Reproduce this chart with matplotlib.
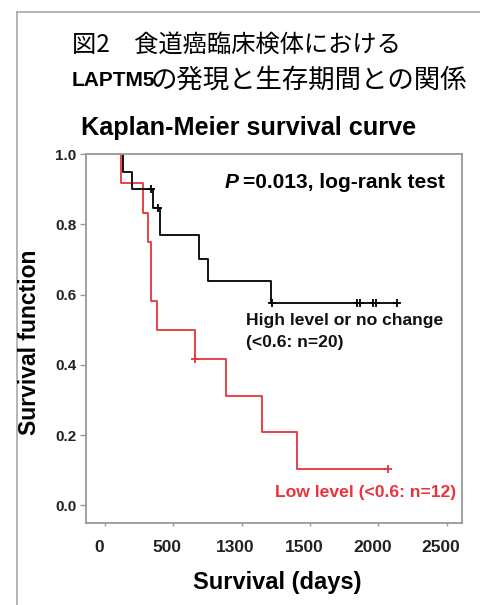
import matplotlib
matplotlib.use("Agg")
import matplotlib.pyplot as plt
from matplotlib.lines import Line2D
from matplotlib.transforms import ScaledTranslation

# Kaplan-Meier curves (days, survival)
high_times = [130, 196, 351, 404, 691, 755, 1218, 2135]
high_surv = [0.95, 0.90, 0.847, 0.77, 0.70, 0.64, 0.577, 0.577]
high_cens_t = [338, 388, 1225, 1847, 1866, 1964, 1984, 2135]

low_times = [115, 280, 312, 335, 380, 659, 884, 1147, 1403, 2074]
low_surv = [0.917, 0.833, 0.75, 0.583, 0.5, 0.417, 0.3125, 0.208, 0.104, 0.104]
low_cens_t = [659, 2074]

xticks = [0, 500, 1000, 1500, 2000, 2500]
xtick_labels = ["0", "500", "1300", "1500", "2000", "2500"]
yticks = [0.0, 0.2, 0.4, 0.6, 0.8, 1.0]

W, H = 481, 605
fx = lambda x: x / W
fy = lambda y: 1 - y / H

plt.rcParams['font.family'] = ['Liberation Sans', 'DejaVu Sans']
fig = plt.figure(figsize=(W / 100, H / 100), dpi=100)

# outer frame of the slide
fig.add_artist(Line2D([fx(17), fx(17)], [fy(12), 0], color="#a8a8a8", lw=1.2))
fig.add_artist(Line2D([fx(17), 1], [fy(12), fy(12)], color="#a8a8a8", lw=1.2))

# Japanese heading
jp = ['Noto Sans CJK JP', 'DejaVu Sans']
fig.text(fx(72), fy(45), "図2　食道癌臨床検体における", family=jp, fontsize=17.5,
         va="center", ha="left")
fig.text(fx(72), fy(81), "LAPTM5", fontsize=15, fontweight="bold",
         va="center", ha="left")
fig.text(fx(151), fy(80), "の発現と生存期間との関係", family=jp, fontsize=19,
         va="center", ha="left")

ax = fig.add_axes([fx(86), fy(523), fx(462) - fx(86), fy(154) - fy(523)])


def km_xy(times, surv):
    xs, ys = [times[0]], [1.0]
    prev = 1.0
    for t, s in zip(times, surv):
        xs += [t, t]
        ys += [prev, s]
        prev = s
    return xs, ys


def surv_at(times, surv, t):
    val = 1.0
    for tt, s in zip(times, surv):
        if tt <= t:
            val = s
    return val


red = "#e8343a"
hx, hy = km_xy(high_times, high_surv)
lx, ly = km_xy(low_times, low_surv)
ax.plot(lx, ly, color=red, lw=1.3)
ax.plot(hx, hy, color="black", lw=1.3)
ax.plot(low_cens_t, [surv_at(low_times, low_surv, t) for t in low_cens_t],
        ls="none", marker="+", ms=6, mew=1.3, color=red)
ax.plot(high_cens_t, [surv_at(high_times, high_surv, t) for t in high_cens_t],
        ls="none", marker="+", ms=6, mew=1.3, color="black")

ax.set_xlim(-139, 2613)
ax.set_ylim(-0.05, 1.0)
ax.set_xticks(xticks)
ax.set_xticklabels(xtick_labels)
ax.set_yticks(yticks)
ax.set_yticklabels([f"{v:.1f}" for v in yticks])
for s in ax.spines.values():
    s.set_color("#999999")
    s.set_linewidth(1.3)
ax.tick_params(axis="y", length=4, width=1, color="#999999", pad=3,
               labelsize=11, labelcolor="#222222")
ax.tick_params(axis="x", length=2, width=1, color="#999999", pad=10,
               labelsize=12.5, labelcolor="#222222")
for lab in ax.get_yticklabels() + ax.get_xticklabels():
    lab.set_fontweight("bold")
for lab in ax.get_xticklabels():
    lab.set_transform(lab.get_transform() + ScaledTranslation(-0.06, 0, fig.dpi_scale_trans))

fig.text(fx(249), fy(128), "Kaplan-Meier survival curve", fontsize=18.2,
         fontweight="bold", ha="center", va="center")
fig.text(fx(30), fy(342), "Survival function", fontsize=16.5, fontweight="bold",
         rotation=90, ha="center", va="center")
fig.text(fx(277), fy(583), "Survival (days)", fontsize=17, fontweight="bold",
         ha="center", va="center")

fig.text(fx(225), fy(183), "P", fontsize=15, fontweight="bold", style="italic",
         ha="left", va="center")
fig.text(fx(243), fy(183), "=0.013, log-rank test", fontsize=15,
         fontweight="bold", ha="left", va="center")
fig.text(fx(246), fy(320), "High level or no change", fontsize=12.6,
         fontweight="bold", ha="left", va="center", color="#111111")
fig.text(fx(246), fy(343), "(<0.6: n=20)", fontsize=12.6,
         fontweight="bold", ha="left", va="center", color="#111111")
fig.text(fx(456), fy(492), "Low level (<0.6: n=12)", fontsize=12.6,
         fontweight="bold", ha="right", va="center", color=red)

fig.savefig("out.png", dpi=100)
